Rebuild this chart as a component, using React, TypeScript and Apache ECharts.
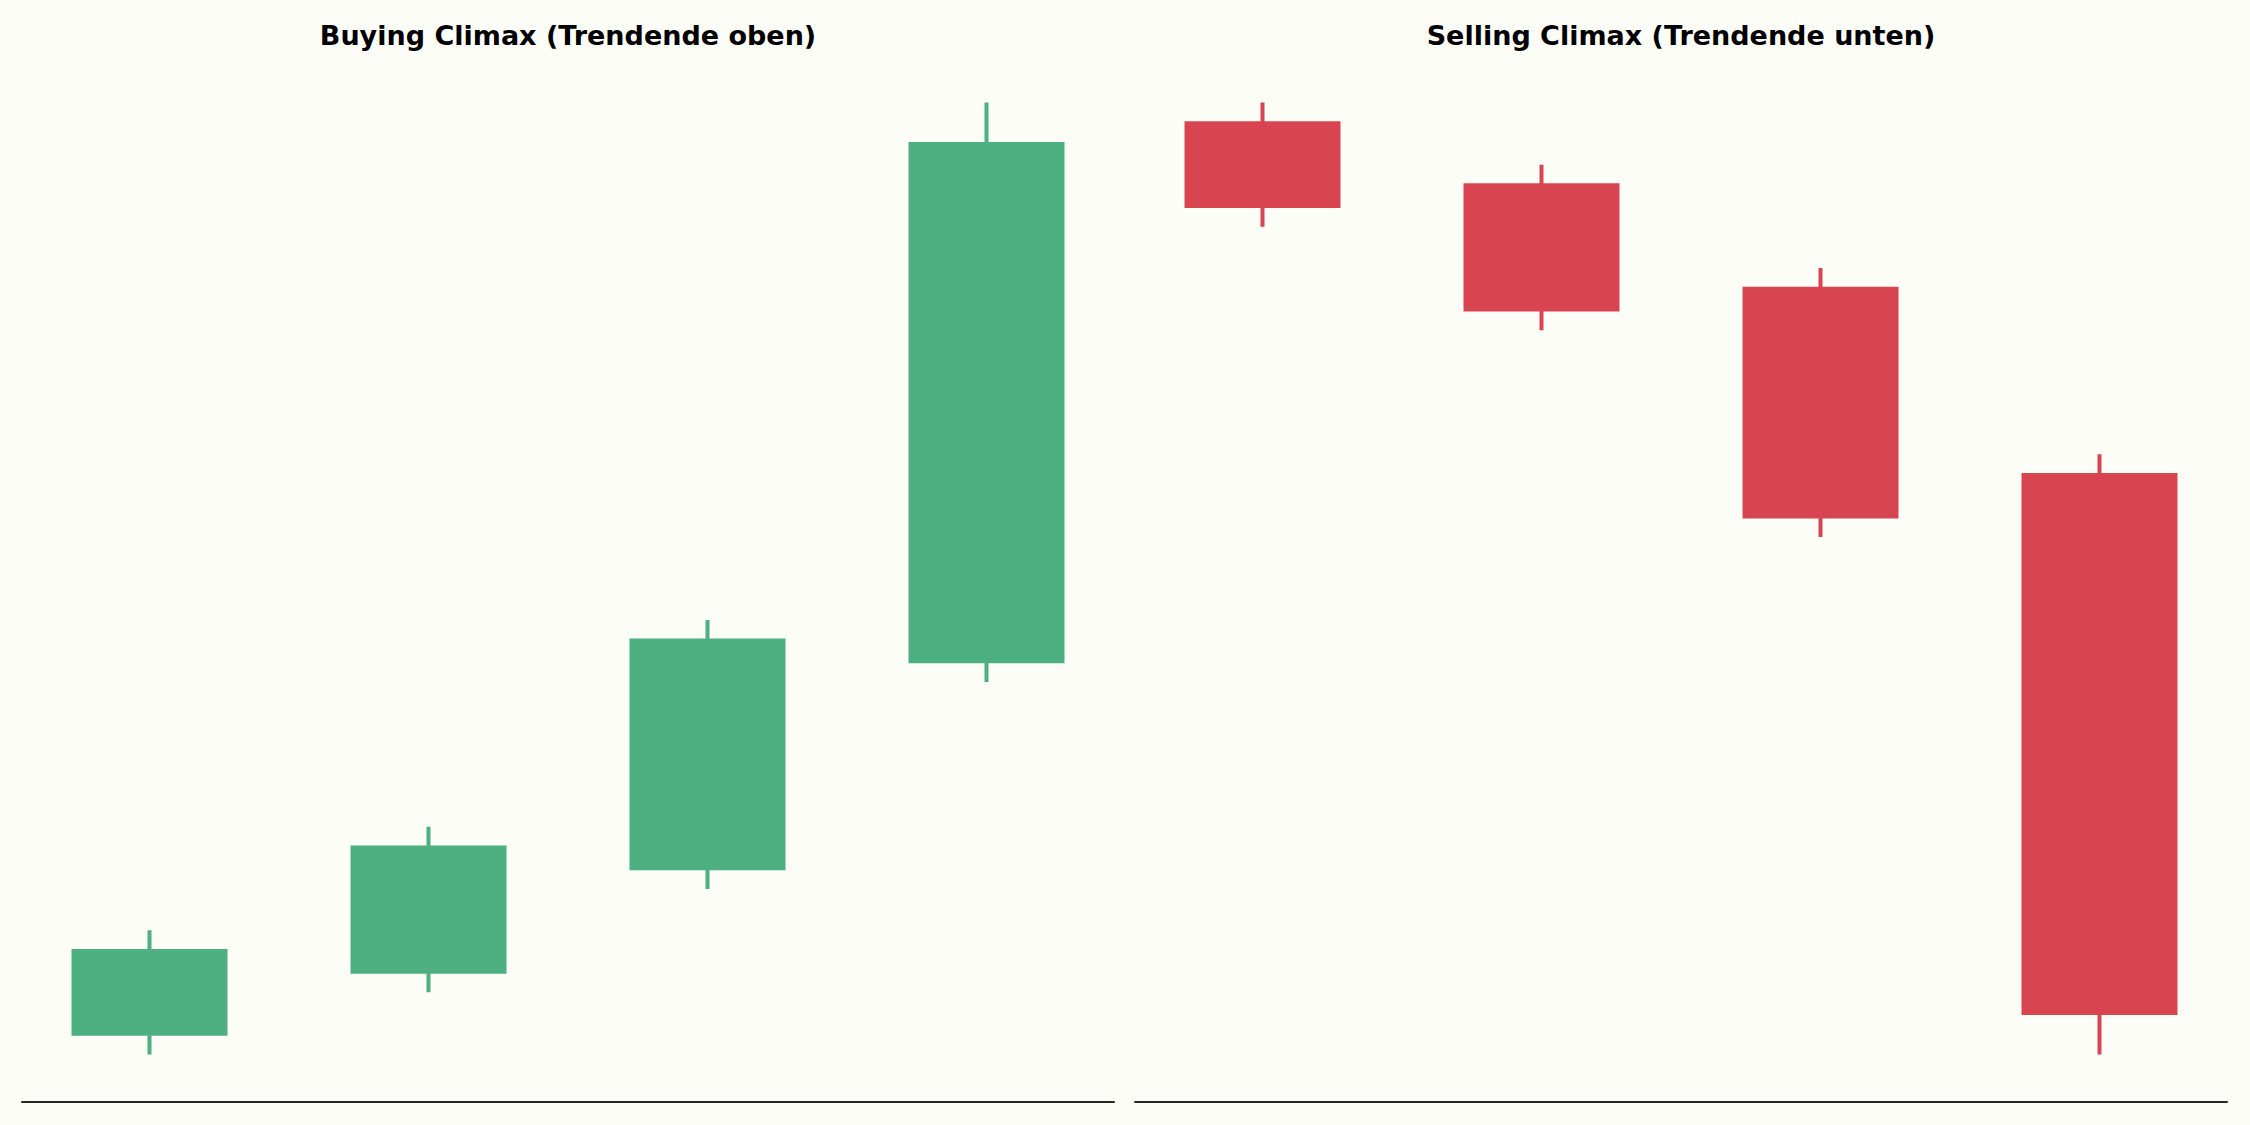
import React, { useEffect, useRef } from "react";
import * as echarts from "echarts";

// Candle positions (x) and OHLC values
const positions = [0, 1, 2, 3];

const buyingOpen = [100, 103, 108, 118];
const buyingClose = [104, 109, 119, 143];
const buyingLow = [99, 102, 107, 117];
const buyingHigh = [105, 110, 120, 145];

const sellingOpen = [144, 141, 136, 127];
const sellingClose = [140, 135, 125, 101];
const sellingLow = [139, 134, 124, 99];
const sellingHigh = [145, 142, 137, 128];

const titles = ["Buying Climax (Trendende oben)", "Selling Climax (Trendende unten)"];

const GREEN = "#4eb080";
const RED = "#d84551";
const BG = "#fdfdf8";

function build(open: number[], close: number[], low: number[], high: number[]) {
  return positions.map((x, i) => [x, open[i], close[i], low[i], high[i]]);
}

export default function App() {
  const ref = useRef<HTMLDivElement>(null);

  useEffect(() => {
    if (!ref.current) return;
    const chart = echarts.init(ref.current, undefined, { renderer: "svg" });

    const allVals = [...buyingLow, ...buyingHigh, ...sellingLow, ...sellingHigh];
    const yMin0 = Math.min(...allVals);
    const yMax0 = Math.max(...allVals);
    const yPad = (yMax0 - yMin0) * 0.05;
    const half = 0.28;
    const xMin0 = positions[0] - half;
    const xMax0 = positions[positions.length - 1] + half;
    const xPad = (xMax0 - xMin0) * 0.05;

    const xAxisBase = {
      type: "value" as const,
      min: xMin0 - xPad,
      max: xMax0 + xPad,
      axisLine: { show: true, onZero: false, lineStyle: { color: "#262626", width: 2 } },
      axisTick: { show: false },
      axisLabel: { show: false },
      splitLine: { show: false },
    };
    const yAxisBase = {
      type: "value" as const,
      min: yMin0 - yPad,
      max: yMax0 + yPad,
      show: false,
      splitLine: { show: false },
    };

    const titleFont = {
      fontSize: 27,
      fontWeight: "bold",
      fontFamily: "DejaVu Sans",
      fill: "#000",
      align: "center",
      verticalAlign: "top",
    };

    chart.setOption({
      animation: false,
      backgroundColor: BG,
      grid: [
        { left: 22, right: 1136, top: 55, bottom: 23 },
        { left: 1135, right: 23, top: 55, bottom: 23 },
      ],
      xAxis: [
        { ...xAxisBase, gridIndex: 0 },
        { ...xAxisBase, gridIndex: 1 },
      ],
      yAxis: [
        { ...yAxisBase, gridIndex: 0 },
        { ...yAxisBase, gridIndex: 1 },
      ],
      graphic: [
        { type: "text", x: 568, y: 22, style: { text: titles[0], ...titleFont } },
        { type: "text", x: 1681, y: 22, style: { text: titles[1], ...titleFont } },
      ],
      series: [
        {
          type: "candlestick",
          xAxisIndex: 0,
          yAxisIndex: 0,
          barWidth: 153,
          data: build(buyingOpen, buyingClose, buyingLow, buyingHigh),
          itemStyle: {
            color: GREEN,
            color0: GREEN,
            borderColor: GREEN,
            borderColor0: GREEN,
            borderWidth: 4,
          },
        },
        {
          type: "candlestick",
          xAxisIndex: 1,
          yAxisIndex: 1,
          barWidth: 153,
          data: build(sellingOpen, sellingClose, sellingLow, sellingHigh),
          itemStyle: {
            color: RED,
            color0: RED,
            borderColor: RED,
            borderColor0: RED,
            borderWidth: 4,
          },
        },
      ],
    });

    return () => chart.dispose();
  }, []);

  return (
    <div
      ref={ref}
      style={{ position: "fixed", left: 0, top: 0, width: 2250, height: 1125, background: BG }}
    />
  );
}
